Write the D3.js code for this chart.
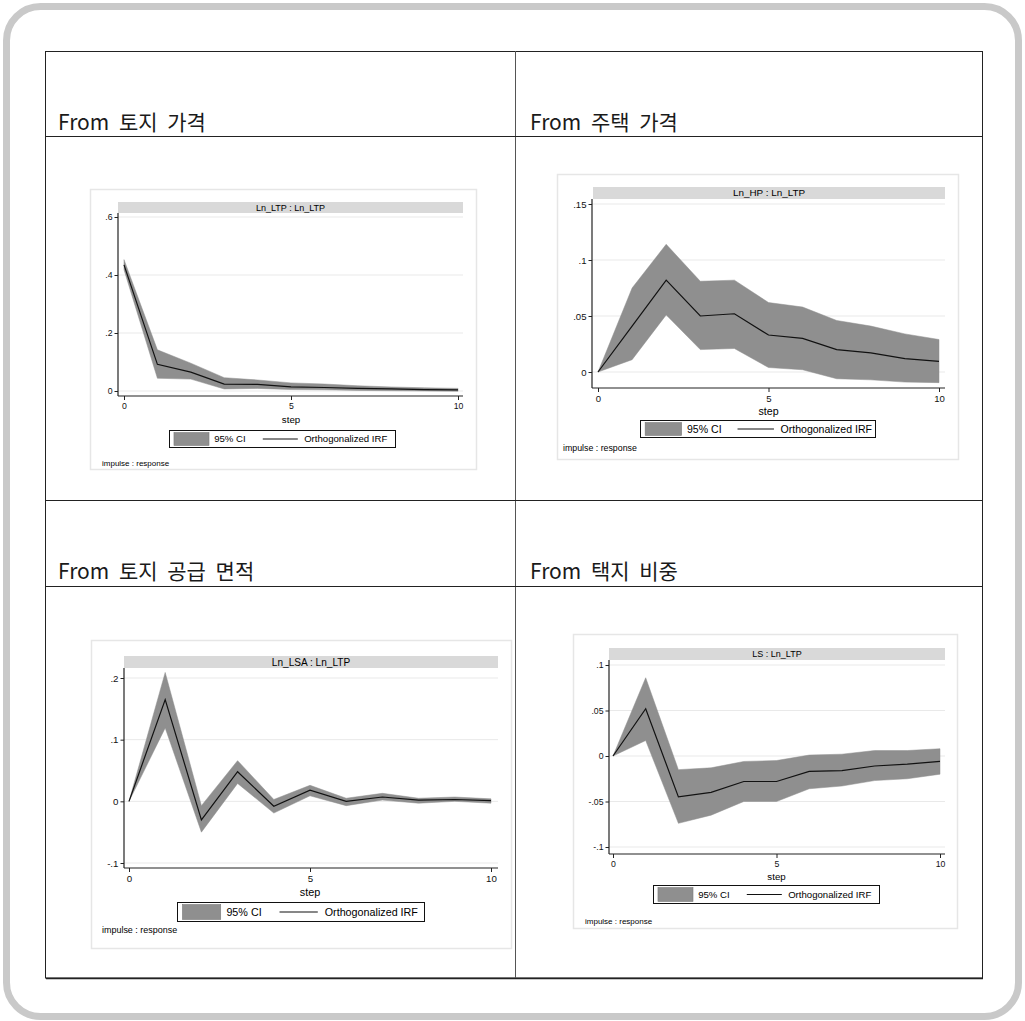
<!DOCTYPE html>
<html>
<head>
<meta charset="utf-8">
<script src="https://cdn.jsdelivr.net/npm/d3@7"></script>
<style>
  body { margin: 0; background: #fff; }
  svg { display: block; }
</style>
</head>
<body>
<svg id="chart" width="1025" height="1021"></svg>
<script>
// ---- data ----
let steps = [0, 1, 2, 3, 4, 5, 6, 7, 8, 9, 10];
let xTicks = [0, 5, 10];

let headers = ["From 토지 가격", "From 주택 가격", "From 토지 공급 면적", "From 택지 비중"];
let panelTitles = ["Ln_LTP : Ln_LTP", "Ln_HP : Ln_LTP", "Ln_LSA : Ln_LTP", "LS : Ln_LTP"];

let irfLtp = [0.435, 0.092, 0.065, 0.024, 0.023, 0.014, 0.012, 0.009, 0.007, 0.005, 0.004];
let hiLtp  = [0.453, 0.142, 0.096, 0.046, 0.038, 0.028, 0.024, 0.018, 0.014, 0.011, 0.009];
let loLtp  = [0.418, 0.044, 0.041, 0.007, 0.009, 0.005, 0.004, 0.002, 0.001, 0.000, -0.001];

let irfHp = [0, 0.041, 0.082, 0.050, 0.052, 0.033, 0.030, 0.020, 0.017, 0.012, 0.0095];
let hiHp  = [0, 0.075, 0.114, 0.081, 0.082, 0.062, 0.058, 0.046, 0.041, 0.034, 0.029];
let loHp  = [0, 0.011, 0.051, 0.020, 0.021, 0.004, 0.002, -0.006, -0.007, -0.009, -0.0095];

let irfLsa = [0, 0.165, -0.030, 0.048, -0.008, 0.018, 0.000, 0.007, 0.002, 0.003, 0.001];
let hiLsa  = [0, 0.209, -0.007, 0.066, 0.003, 0.026, 0.005, 0.013, 0.005, 0.007, 0.004];
let loLsa  = [0, 0.119, -0.050, 0.029, -0.019, 0.009, -0.007, 0.002, -0.003, 0.000, -0.003];

let irfLs = [0, 0.052, -0.045, -0.040, -0.028, -0.028, -0.017, -0.016, -0.011, -0.009, -0.006];
let hiLs  = [0, 0.086, -0.015, -0.013, -0.006, -0.005, 0.001, 0.002, 0.006, 0.006, 0.008];
let loLs  = [0, 0.017, -0.074, -0.065, -0.050, -0.050, -0.036, -0.033, -0.027, -0.025, -0.020];

let yTicksLtp = [0, 0.2, 0.4, 0.6],          yLabelsLtp = ["0", ".2", ".4", ".6"];
let yTicksHp  = [0, 0.05, 0.1, 0.15],        yLabelsHp  = ["0", ".05", ".1", ".15"];
let yTicksLsa = [-0.1, 0, 0.1, 0.2],         yLabelsLsa = ["-.1", "0", ".1", ".2"];
let yTicksLs  = [-0.1, -0.05, 0, 0.05, 0.1], yLabelsLs  = ["-.1", "-.05", "0", ".05", ".1"];

let legendLabels = ["95% CI", "Orthogonalized IRF"];
let xAxisTitle = "step";
let note = "impulse : response";

// ---- layout ----
let font = "'Liberation Sans', Arial, sans-serif";
let bandColor = "#8f8f8f";

let panels = [
  { irf: irfLtp, hi: hiLtp, lo: loLtp, yDom: [0, 0.6], ticks: yTicksLtp, labels: yLabelsLtp,
    box: [90, 189, 476, 469], bar: [118, 202, 463, 213], axisX: 118, axisY: 396,
    xr: [124, 458], yr: [391, 217], stepY: 420, legend: [169, 430, 395, 447], imp: [102, 463], f: 1 },
  { irf: irfHp, hi: hiHp, lo: loHp, yDom: [0, 0.15], ticks: yTicksHp, labels: yLabelsHp,
    box: [557, 174, 958, 459], bar: [593, 187, 945, 199], axisX: 592, axisY: 388,
    xr: [598, 939], yr: [372, 204], stepY: 411, legend: [640, 420, 875, 437], imp: [563, 448], f: 1.1 },
  { irf: irfLsa, hi: hiLsa, lo: loLsa, yDom: [-0.1, 0.2], ticks: yTicksLsa, labels: yLabelsLsa,
    box: [91, 640, 511, 948], bar: [124, 656, 498, 668], axisX: 124, axisY: 868,
    xr: [129, 491], yr: [863, 678], stepY: 892, legend: [177, 902, 424, 921], imp: [102, 930], f: 1.12 },
  { irf: irfLs, hi: hiLs, lo: loLs, yDom: [-0.1, 0.1], ticks: yTicksLs, labels: yLabelsLs,
    box: [573, 634, 957, 928], bar: [609, 648, 945, 660], axisX: 609, axisY: 854,
    xr: [613, 940], yr: [847, 665], stepY: 877, legend: [653, 885, 879, 903], imp: [585, 921], f: 1 }
];

let svg = d3.select("#chart");

// rounded outer frame
svg.append("rect")
  .attr("x", 6.5).attr("y", 6.5)
  .attr("width", 1012).attr("height", 1010)
  .attr("rx", 34).attr("ry", 34)
  .attr("fill", "#fff")
  .attr("stroke", "#c9c9c9")
  .attr("stroke-width", 7);

// table grid
let table = svg.append("g").attr("stroke", "#222").attr("stroke-width", 1);
table.append("rect")
  .attr("x", 45.5).attr("y", 51.5).attr("width", 937).attr("height", 926.5)
  .attr("fill", "none");
table.append("line").attr("x1", 46).attr("x2", 983).attr("y1", 978.5).attr("y2", 978.5).attr("stroke-width", 1.5);
table.append("line").attr("x1", 515.5).attr("x2", 515.5).attr("y1", 51).attr("y2", 978).attr("stroke", "#555");
[136.5, 500.5, 586.5].forEach(function(y) {
  table.append("line").attr("x1", 45).attr("x2", 983).attr("y1", y).attr("y2", y);
});

// header cells
let headerPos = [[58, 130], [530, 130], [58, 579], [530, 579]];
svg.selectAll("text.header")
  .data(headers)
  .enter().append("text")
  .attr("class", "header")
  .attr("x", function(d, i) { return headerPos[i][0]; })
  .attr("y", function(d, i) { return headerPos[i][1]; })
  .style("font-family", "'Noto Sans CJK KR', 'Noto Sans', sans-serif")
  .style("font-size", "21px")
  .style("word-spacing", "5px")
  .attr("fill", "#1a1a1a")
  .text(function(d) { return d; });

var drawPanel = function(p, i) {
  let g = svg.append("g").attr("class", "panel");
  let f = p.f;

  // graph region
  g.append("rect")
    .attr("x", p.box[0] + 0.5).attr("y", p.box[1] + 0.5)
    .attr("width", p.box[2] - p.box[0]).attr("height", p.box[3] - p.box[1])
    .attr("fill", "#fff").attr("stroke", "#e6e6e6").attr("stroke-width", 1.5);

  // title bar
  g.append("rect")
    .attr("x", p.bar[0]).attr("y", p.bar[1])
    .attr("width", p.bar[2] - p.bar[0]).attr("height", p.bar[3] - p.bar[1])
    .attr("fill", "#d9d9d9");
  g.append("text")
    .attr("x", (p.bar[0] + p.bar[2]) / 2).attr("y", (p.bar[1] + p.bar[3]) / 2)
    .attr("dy", "0.35em")
    .style("text-anchor", "middle")
    .style("font-family", font).style("font-size", (9 * f) + "px")
    .text(panelTitles[i]);

  let xScale = d3.scaleLinear().domain([0, 10]).range(p.xr);
  let yScale = d3.scaleLinear().domain(p.yDom).range(p.yr);

  // gridlines
  g.selectAll("line.grid")
    .data(p.ticks)
    .enter().append("line")
    .attr("class", "grid")
    .attr("x1", p.axisX).attr("x2", p.bar[2])
    .attr("y1", function(d) { return yScale(d); })
    .attr("y2", function(d) { return yScale(d); })
    .attr("stroke", "#e9e9e9").attr("stroke-width", 1);

  // CI band
  let band = d3.area()
    .x(function(d, j) { return xScale(steps[j]); })
    .y0(function(d, j) { return yScale(p.lo[j]); })
    .y1(function(d, j) { return yScale(p.hi[j]); });
  g.append("path")
    .datum(steps)
    .attr("d", band)
    .attr("fill", bandColor)
    .attr("stroke", bandColor).attr("stroke-width", 0.5);

  // IRF line
  let irfLine = d3.line()
    .x(function(d, j) { return xScale(steps[j]); })
    .y(function(d, j) { return yScale(p.irf[j]); });
  g.append("path")
    .datum(steps)
    .attr("d", irfLine)
    .attr("fill", "none")
    .attr("stroke", "#111").attr("stroke-width", 1.2);

  // axes
  let yAxis = d3.axisLeft(yScale)
    .tickValues(p.ticks)
    .tickFormat(function(d, j) { return p.labels[j]; })
    .tickSize(3.5).tickPadding(2);
  let yGroup = g.append("g")
    .attr("transform", "translate(" + p.axisX + ",0)")
    .call(yAxis);

  let xAxis = d3.axisBottom(xScale)
    .tickValues(xTicks)
    .tickSize(4).tickPadding(3);
  let xGroup = g.append("g")
    .attr("transform", "translate(0," + p.axisY + ")")
    .call(xAxis);

  [yGroup, xGroup].forEach(function(ax) {
    ax.select(".domain").remove();
    ax.selectAll(".tick line").attr("stroke", "#222");
    ax.selectAll(".tick text")
      .attr("fill", "#111")
      .style("font-family", font).style("font-size", (8.7 * f) + "px");
  });

  g.append("line")
    .attr("x1", p.axisX).attr("x2", p.axisX)
    .attr("y1", p.bar[3]).attr("y2", p.axisY)
    .attr("stroke", "#222").attr("stroke-width", 1.2);
  g.append("line")
    .attr("x1", p.axisX).attr("x2", p.bar[2])
    .attr("y1", p.axisY).attr("y2", p.axisY)
    .attr("stroke", "#222").attr("stroke-width", 1.2);

  g.append("text")
    .attr("x", (p.xr[0] + p.xr[1]) / 2).attr("y", p.stepY)
    .attr("dy", "0.35em")
    .style("text-anchor", "middle")
    .style("font-family", font).style("font-size", (9.7 * f) + "px")
    .text(xAxisTitle);

  // legend
  let lx = p.legend[0], ly = p.legend[1];
  let lw = p.legend[2] - p.legend[0], lh = p.legend[3] - p.legend[1];
  let leg = g.append("g");
  leg.append("rect")
    .attr("x", lx + 0.5).attr("y", ly + 0.5).attr("width", lw).attr("height", lh)
    .attr("fill", "#fff").attr("stroke", "#111").attr("stroke-width", 1);
  leg.append("rect")
    .attr("x", lx + 0.022 * lw).attr("y", ly + 2.5)
    .attr("width", 0.155 * lw).attr("height", lh - 4)
    .attr("fill", bandColor).attr("stroke", "#7a7a7a").attr("stroke-width", 0.6);
  leg.append("line")
    .attr("x1", lx + 0.415 * lw).attr("x2", lx + 0.57 * lw)
    .attr("y1", ly + lh / 2 + 0.5).attr("y2", ly + lh / 2 + 0.5)
    .attr("stroke", "#111").attr("stroke-width", 1.1);
  leg.selectAll("text")
    .data(legendLabels)
    .enter().append("text")
    .attr("x", function(d, j) { return lx + (j === 0 ? 0.2 : 0.598) * lw; })
    .attr("y", ly + lh / 2 + 0.5)
    .attr("dy", "0.35em")
    .style("font-family", font).style("font-size", (9.6 * f) + "px")
    .text(function(d) { return d; });

  g.append("text")
    .attr("x", p.imp[0]).attr("y", p.imp[1])
    .attr("dy", "0.35em")
    .style("font-family", font).style("font-size", (8 * f) + "px")
    .text(note);
};

panels.forEach(drawPanel);
</script>
</body>
</html>
